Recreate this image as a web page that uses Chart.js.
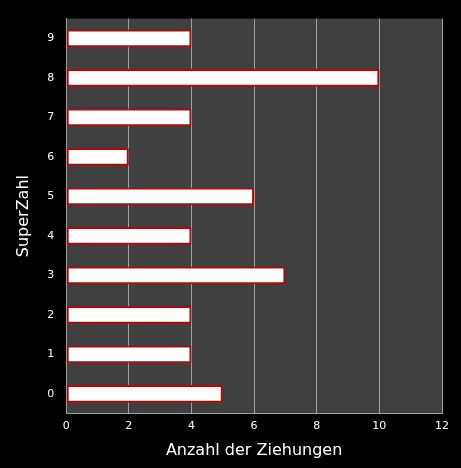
<!DOCTYPE html>
<html>
<head>
<script src="https://cdn.jsdelivr.net/npm/chart.js@4/dist/chart.umd.min.js"></script>
<style>
  body { margin: 0; background: #000; }
  #wrap { width: 461px; height: 468px; }
</style>
</head>
<body>
<div id="wrap"><canvas id="chart"></canvas></div>
<script>
const categories = ['9', '8', '7', '6', '5', '4', '3', '2', '1', '0'];
const counts = [4, 10, 4, 2, 6, 4, 7, 4, 4, 5];

// paint the plot area dark gray
const plotBg = {
  id: 'plotBg',
  beforeDraw(chart) {
    const { ctx, chartArea: a } = chart;
    ctx.save();
    ctx.fillStyle = '#404040';
    ctx.fillRect(a.left, a.top, a.right - a.left, a.bottom - a.top);
    ctx.restore();
  }
};

new Chart(document.getElementById('chart'), {
  type: 'bar',
  data: {
    labels: categories,
    datasets: [{
      data: counts,
      backgroundColor: '#ffffff',
      borderColor: '#c00000',
      borderWidth: 2,
      borderSkipped: false,
      barPercentage: 0.45,
      categoryPercentage: 1
    }]
  },
  options: {
    indexAxis: 'y',
    responsive: true,
    maintainAspectRatio: false,
    animation: false,
    layout: { padding: { top: 4, right: 19, left: 14, bottom: 8 } },
    plugins: { legend: { display: false }, tooltip: { enabled: false } },
    scales: {
      x: {
        min: 0, max: 12,
        ticks: { stepSize: 2, color: '#ffffff', font: { family: 'DejaVu Sans', size: 11 }, padding: 6 },
        grid: { color: '#a0a0a0', drawTicks: false },
        border: { color: '#a0a0a0' },
        title: { display: true, text: 'Anzahl der Ziehungen', color: '#ffffff', padding: { top: 2, bottom: 0 },
                 font: { family: 'DejaVu Sans', size: 16 } }
      },
      y: {
        ticks: { color: '#ffffff', font: { family: 'DejaVu Sans', size: 11 }, padding: 12 },
        grid: { display: false, drawTicks: false },
        border: { color: '#a0a0a0' },
        title: { display: true, text: 'SuperZahl', color: '#ffffff', padding: { top: 0, bottom: 2 },
                 font: { family: 'DejaVu Sans', size: 16 } }
      }
    }
  },
  plugins: [plotBg]
});
</script>
</body>
</html>
